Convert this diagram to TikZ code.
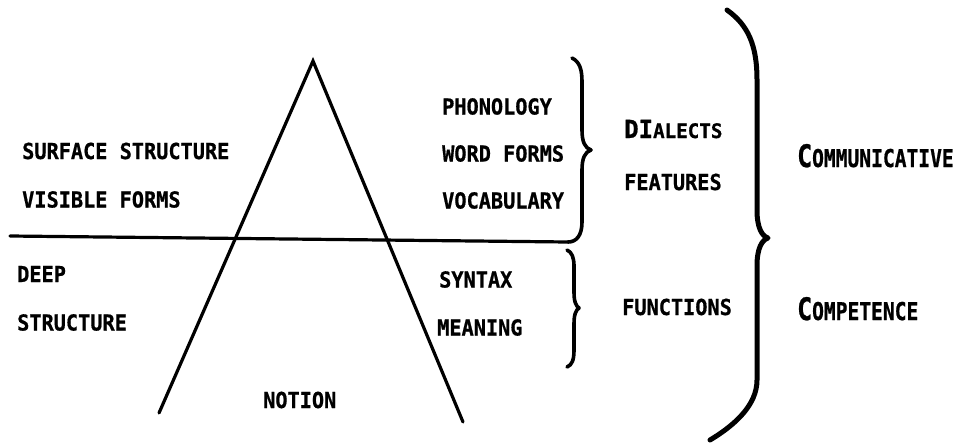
\documentclass[tikz,border=0pt]{standalone}
\usepackage{fontspec}
\usepackage{graphicx}
\setmonofont{DejaVu Sans Mono}[BoldFeatures={FakeBold=0.8}]
\begin{document}
\begin{tikzpicture}[x=1pt,y=-1pt,
  lbl/.style={inner sep=0pt, anchor=base west, font=\fontsize{22}{24}\ttfamily\bfseries},
  biglbl/.style={inner sep=0pt, anchor=base west, font=\fontsize{24.5}{26}\ttfamily\bfseries},
  stroke/.style={line width=3.2pt, line cap=round},
  bracepath/.style={line width=3.6pt, line cap=round, line join=round},
  bigbrace/.style={line width=5pt, line cap=round, line join=round}]
\newcommand{\nar}[1]{\scalebox{0.92}[1]{#1}}
\newcommand{\wide}[1]{\scalebox{0.8}[1]{#1}}
\newcommand{\bigini}[1]{{\fontsize{31}{31}\selectfont #1}}
\useasboundingbox (0,0) rectangle (961,445);

% triangle and horizontal line
\coordinate (apex) at (313,61);
\coordinate (lfoot) at (159,413);
\coordinate (rfoot) at (463,422);
\coordinate (hl) at (10,236);
\coordinate (hr) at (568,242);
\draw[stroke] (lfoot) -- (apex) -- (rfoot);
\draw[stroke] (hl) -- (hr);

% upper brace
\draw[bracepath] (572,58) .. controls (580,62) and (582,70) .. (582,82) -- (582,130)
  .. controls (582,142) and (585,148) .. (591,150)
  .. controls (585,152) and (582,158) .. (582,170) -- (582,222)
  .. controls (582,236) and (576,242) .. (hr);

% lower brace
\draw[bracepath] (567,250) .. controls (572,252) and (574,258) .. (574,266) -- (574,292)
  .. controls (574,302) and (576,306) .. (579,308)
  .. controls (576,310) and (574,314) .. (574,324) -- (574,350)
  .. controls (574,360) and (572,365) .. (567,367);

% big brace
\draw[bigbrace] (727,10) .. controls (748,25) and (757,45) .. (757,80) -- (757,210)
  .. controls (757,228) and (762,236) .. (768,238)
  .. controls (762,240) and (757,248) .. (757,266) -- (757,380)
  .. controls (757,405) and (735,425) .. (710,440);

% left labels
\node[lbl] (surf) at (22,159) {\nar{SURFACE STRUCTURE}};
\node[lbl] (vis) at (22,207.5) {\nar{VISIBLE FORMS}};
\node[lbl] (deep) at (17,282) {\nar{DEEP}};
\node[lbl] (dstruct) at (17,330.5) {\nar{STRUCTURE}};
\node[lbl] (notion) at (263,408) {\nar{NOTION}};

% middle labels
\node[lbl] (phon) at (442,114.5) {\nar{PHONOLOGY}};
\node[lbl] (word) at (442,161.5) {\nar{WORD FORMS}};
\node[lbl] (vocab) at (442,208.5) {\nar{VOCABULARY}};
\node[lbl] (syntax) at (439,287.5) {\nar{SYNTAX}};
\node[lbl] (meaning) at (437,335.5) {\nar{MEANING}};

% right labels
\node[lbl] (dial) at (624,138) {\scalebox{0.96}[1]{{\fontsize{25}{25}\selectfont DI}{\fontsize{20}{20}\selectfont ALECTS}}};
\node[lbl] (feat) at (624,190) {\nar{FEATURES}};
\node[lbl] (func) at (622,315) {\nar{FUNCTIONS}};
\node[biglbl] (comm) at (797,167) {\wide{\bigini{C}OMMUNICATIVE}};
\node[biglbl] (comp) at (797,320) {\wide{\bigini{C}OMPETENCE}};
\end{tikzpicture}
\end{document}
